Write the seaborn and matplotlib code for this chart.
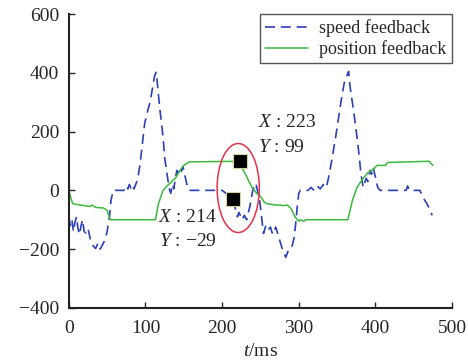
import matplotlib
matplotlib.use("Agg")
import numpy as np
import pandas as pd
import matplotlib.pyplot as plt
from matplotlib.patches import Ellipse
import seaborn as sns

sns.set_style('ticks')
plt.rcParams['font.family'] = ['Liberation Serif', 'DejaVu Serif']
plt.rcParams['mathtext.fontset'] = 'custom'
plt.rcParams['mathtext.rm'] = 'Liberation Serif'
plt.rcParams['mathtext.it'] = 'Liberation Serif:italic'

# speed feedback (blue dashed)
t_speed = [0, 2, 4, 6, 8, 10, 12, 14, 16, 18, 20, 22, 25, 28, 32, 35, 38, 41, 44,
           47, 50, 53, 55, 58, 68, 72, 75, 77, 79, 81, 83, 85, 88, 90, 93, 95, 97,
           99, 103, 106, 108, 110, 112, 114, 115, 116, 119, 123, 125, 128, 131, 133,
           135, 137, 139, 141, 143, 145, 147, 149, 152, 154, 157, 200, 205, 214, 217,
           220, 222, 226, 229, 232, 236, 240, 244, 249, 252, 254, 257, 260, 263, 266,
           270, 274, 278, 283, 287, 291, 294, 296, 298, 300, 302, 312, 316, 320, 324,
           328, 332, 336, 339, 343, 348, 352, 356, 360, 364, 365, 367, 372, 376, 379,
           381, 384, 388, 390, 393, 395, 397, 400, 403, 406, 440, 442, 444, 458, 462,
           467, 470, 474]
speed = [-90, -120, -100, -140, -110, -90, -130, -150, -120, -100, -140, -145, -130,
         -165, -190, -198, -180, -200, -185, -170, -140, -90, -35, 0, 0, 0, 15, 5, 20,
         8, 18, 5, 25, 40, 90, 136, 180, 228, 272, 300, 330, 360, 391, 402, 380, 350,
         272, 180, 113, 58, 7, -10, 20, 5, 40, 68, 60, 78, 65, 80, 45, 20, 0, 0, -10,
         -29, -60, -90, -75, -100, -85, -100, -57, 0, 24, -34, -100, -147, -120, -135,
         -125, -150, -125, -160, -195, -228, -200, -193, -160, -113, -57, -10, 0, 0,
         10, 0, 15, 5, 20, 10, 45, 102, 180, 249, 317, 375, 398, 405, 351, 262, 180,
         113, 58, 10, 41, 30, 68, 55, 78, 45, 10, 0, 0, 15, 0, 0, -24, -45, -60, -85]

# position feedback (green solid)
t_pos = [0, 2, 5, 10, 15, 20, 28, 30, 35, 45, 50, 54, 60, 113, 117, 123, 128, 132,
         140, 145, 150, 157, 223, 226, 230, 235, 239, 245, 250, 255, 258, 265, 270,
         275, 280, 285, 290, 295, 300, 302, 306, 310, 364, 370, 376, 382, 390, 396,
         402, 413, 416, 470, 475]
position = [0, -20, -45, -48, -50, -52, -55, -50, -58, -60, -68, -100, -100, -100,
            -45, 0, 15, 24, 45, 68, 85, 97, 99, 75, 58, 30, 10, -10, -20, -40, -45,
            -48, -50, -50, -52, -50, -62, -90, -105, -100, -105, -100, -100, -34, 10,
            34, 60, 68, 85, 85, 95, 99, 85]

# data cursor points
mark_x = [223, 214]
mark_y = [99, -29]

fig = plt.figure(figsize=(4.68, 3.63), dpi=100)
ax = fig.add_axes([0.147, 0.152, 0.819, 0.809])

sns.lineplot(x=t_speed, y=speed, sort=False, ax=ax, color='#2b3fb8',
             linewidth=1.2, linestyle=(0, (6, 3.5)), label='speed feedback')
sns.lineplot(x=t_pos, y=position, sort=False, ax=ax, color='#3cb83c',
             linewidth=1.1, label='position feedback')

ell = Ellipse((221, 8), 55, 303, fill=False, edgecolor='#e8304a', linewidth=1.1,
              zorder=4)
ax.add_patch(ell)

sns.scatterplot(x=mark_x, y=mark_y, marker='s', s=110, color='black',
                edgecolor='#d8d0a0', linewidth=0.8, ax=ax, zorder=5, legend=False)

ax.text(247, 232, r'$X$ : 223', fontsize=14, va='center', ha='left')
ax.text(247, 147, r'$Y$ : 99', fontsize=14, va='center', ha='left')
ax.text(116, -92, r'$X$ : 214', fontsize=14, va='center', ha='left')
ax.text(118, -174, r'$Y$ : $-$29', fontsize=14, va='center', ha='left')

ax.set_xlim(0, 500)
ax.set_ylim(-400, 600)
ax.set_xticks([0, 100, 200, 300, 400, 500])
ax.set_yticks([-400, -200, 0, 200, 400, 600])
ax.set_yticklabels(['\u2212400', '\u2212200', '0', '200', '400', '600'])
ax.tick_params(direction='in', length=4, width=1, labelsize=14, pad=7)
ax.tick_params(axis='x', pad=9)
ax.set_xlabel(r'$t$/ms', fontsize=14, labelpad=4)
ax.set_ylabel('')
sns.despine(ax=ax)
for s in ['left', 'bottom']:
    ax.spines[s].set_linewidth(1.5)
    ax.spines[s].set_color('#222222')

leg = ax.legend(loc='upper right', borderaxespad=0, fancybox=False,
                fontsize=13, handlelength=2.4, framealpha=1,
                edgecolor='#555555', borderpad=0.3, labelspacing=0.15,
                handletextpad=0.6)
leg.get_frame().set_linewidth(1.0)

fig.savefig('out.png', dpi=100)
